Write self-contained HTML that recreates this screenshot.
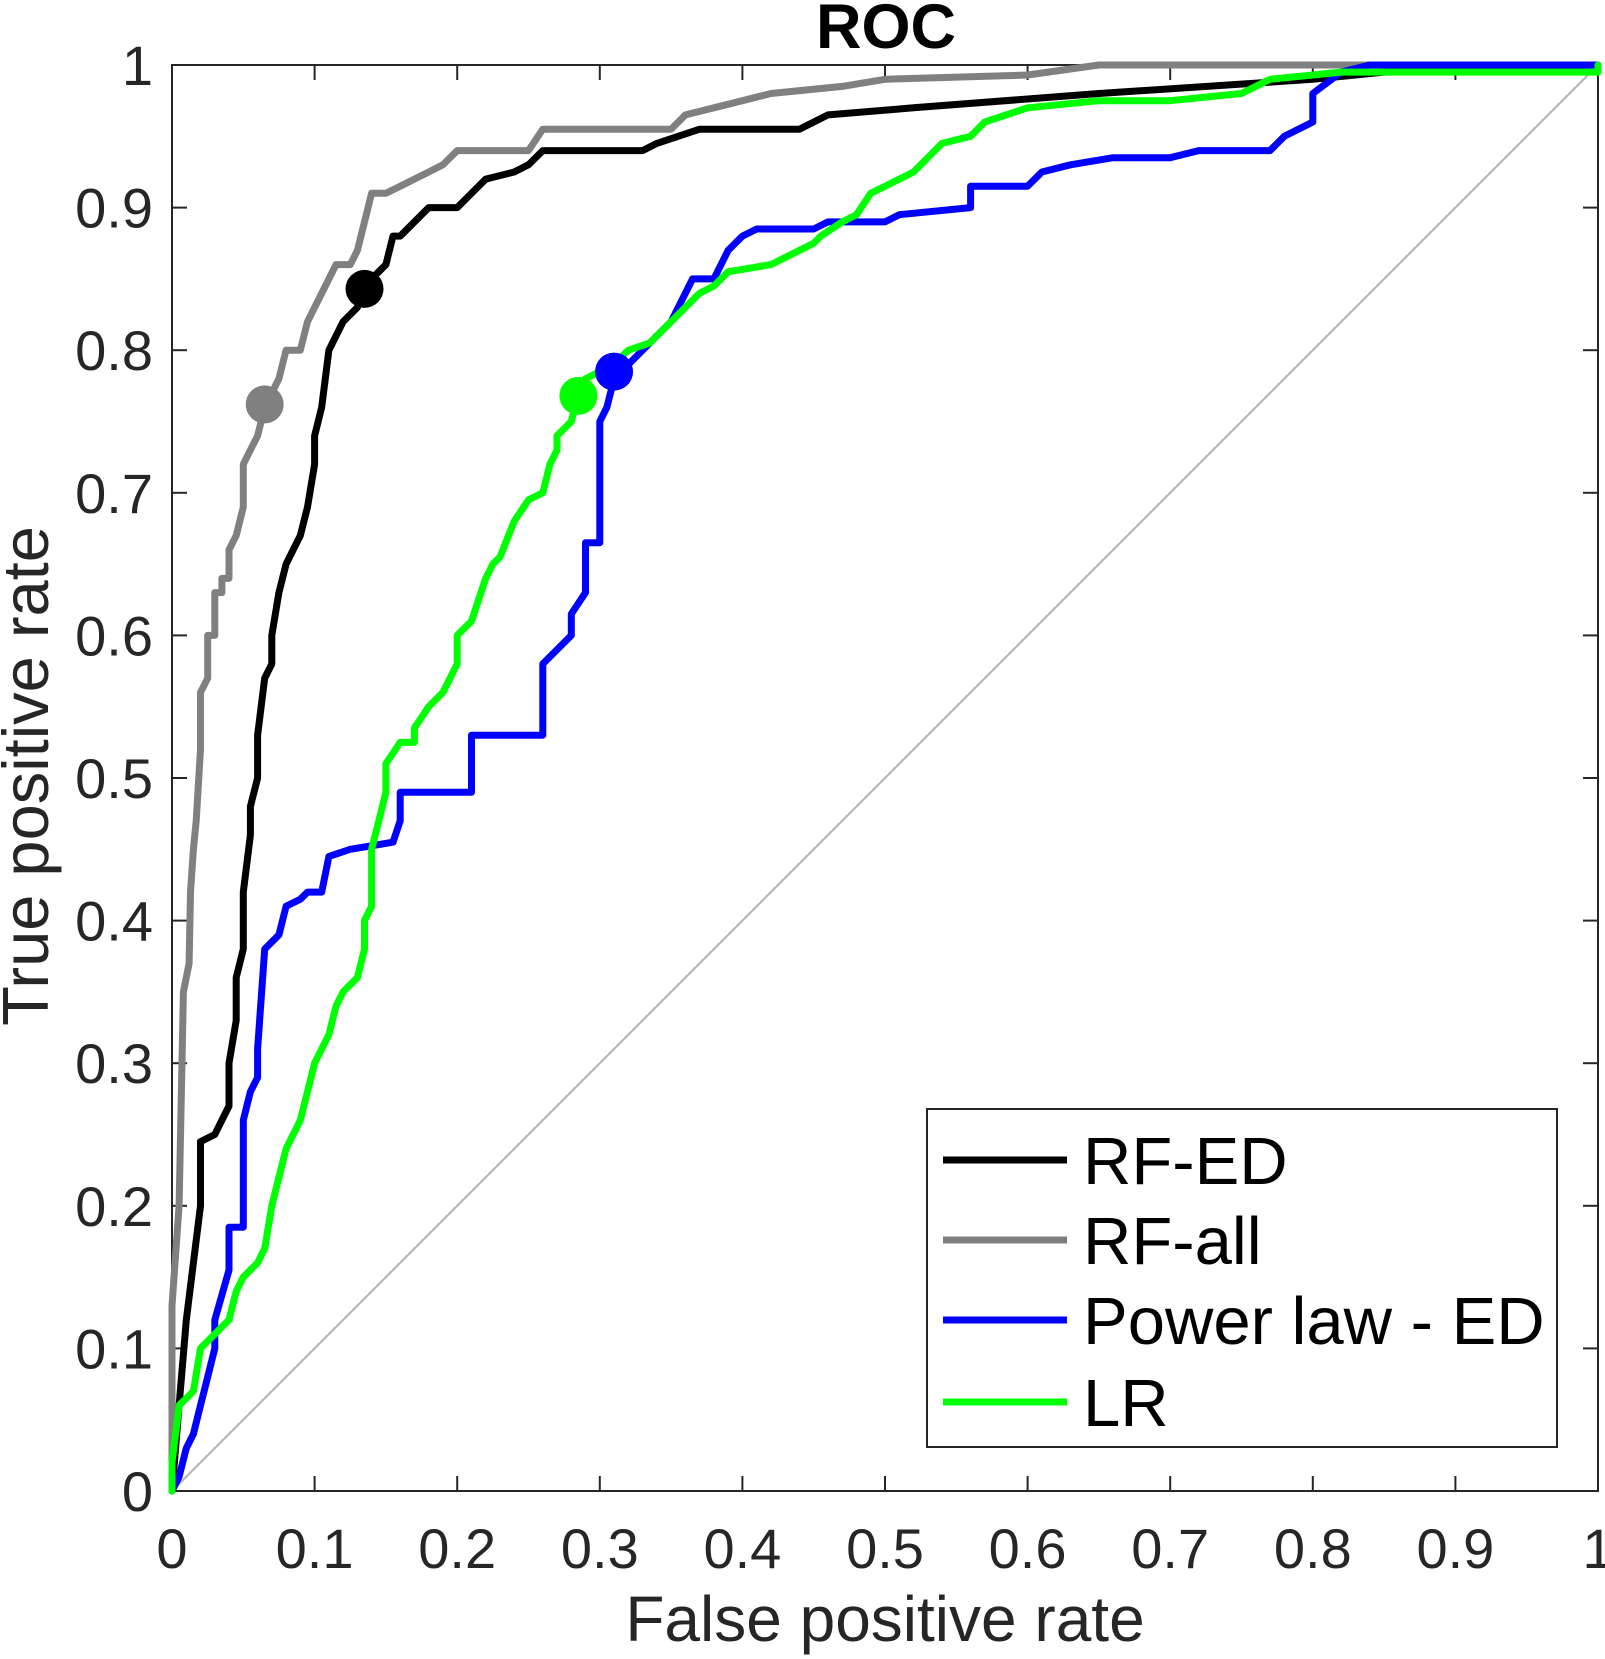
<!DOCTYPE html>
<html><head><meta charset="utf-8"><style>
html,body{margin:0;padding:0;background:#fff;}
svg{display:block;font-family:"Liberation Sans",sans-serif;}
</style></head><body>
<svg id="chart" width="1605" height="1659" viewBox="0 0 1605 1659"></svg>
<script>
const tickValues=[0,0.1,0.2,0.3,0.4,0.5,0.6,0.7,0.8,0.9,1];
const tickLabels=["0","0.1","0.2","0.3","0.4","0.5","0.6","0.7","0.8","0.9","1"];
const seriesNames=["RF-ED","RF-all","Power law - ED","LR"];
const seriesColors=["#000000","#808080","#0000ff","#00ff00"];
const rfEdFpr=[0,0.005,0.01,0.015,0.02,0.02,0.03,0.035,0.04,0.04,0.045,0.045,0.05,0.05,0.055,0.055,0.06,0.06,0.065,0.07,0.07,0.075,0.08,0.085,0.09,0.095,0.1,0.1,0.105,0.11,0.115,0.12,0.13,0.135,0.15,0.155,0.16,0.18,0.2,0.21,0.22,0.24,0.25,0.26,0.33,0.34,0.37,0.44,0.46,0.52,0.65,0.8,0.85,1];
const rfEdTpr=[0,0.06,0.12,0.16,0.2,0.245,0.25,0.26,0.27,0.3,0.33,0.36,0.38,0.42,0.46,0.48,0.5,0.53,0.57,0.58,0.6,0.63,0.65,0.66,0.67,0.69,0.72,0.74,0.76,0.8,0.81,0.82,0.83,0.845,0.86,0.88,0.88,0.9,0.9,0.91,0.92,0.925,0.93,0.94,0.94,0.945,0.955,0.955,0.965,0.97,0.98,0.99,0.995,1];
const rfAllFpr=[0,0,0.005,0.008,0.012,0.013,0.015,0.017,0.02,0.02,0.025,0.025,0.03,0.03,0.035,0.035,0.04,0.04,0.045,0.05,0.05,0.055,0.06,0.065,0.075,0.08,0.09,0.095,0.1,0.11,0.115,0.125,0.13,0.135,0.14,0.15,0.16,0.17,0.18,0.19,0.2,0.25,0.26,0.35,0.36,0.38,0.4,0.42,0.47,0.5,0.6,0.65,1];
const rfAllTpr=[0,0.13,0.2,0.35,0.37,0.42,0.45,0.47,0.52,0.56,0.57,0.6,0.6,0.63,0.63,0.64,0.64,0.66,0.67,0.69,0.72,0.73,0.74,0.76,0.78,0.8,0.8,0.82,0.83,0.85,0.86,0.86,0.87,0.89,0.91,0.91,0.915,0.92,0.925,0.93,0.94,0.94,0.955,0.955,0.965,0.97,0.975,0.98,0.985,0.99,0.993,1,1];
const plFpr=[0,0.005,0.01,0.015,0.02,0.025,0.03,0.03,0.04,0.04,0.05,0.05,0.055,0.06,0.06,0.065,0.075,0.08,0.09,0.095,0.105,0.11,0.125,0.155,0.16,0.16,0.21,0.21,0.26,0.26,0.27,0.28,0.28,0.29,0.29,0.3,0.3,0.305,0.31,0.33,0.34,0.35,0.36,0.365,0.38,0.39,0.4,0.41,0.45,0.46,0.5,0.51,0.56,0.56,0.6,0.61,0.63,0.66,0.7,0.72,0.77,0.78,0.8,0.8,0.82,0.84,1];
const plTpr=[0,0.01,0.03,0.04,0.06,0.08,0.1,0.12,0.155,0.185,0.185,0.26,0.28,0.29,0.31,0.38,0.39,0.41,0.415,0.42,0.42,0.445,0.45,0.455,0.47,0.49,0.49,0.53,0.53,0.58,0.59,0.6,0.615,0.63,0.665,0.665,0.75,0.76,0.78,0.8,0.81,0.82,0.84,0.85,0.85,0.87,0.88,0.885,0.885,0.89,0.89,0.895,0.9,0.915,0.915,0.925,0.93,0.935,0.935,0.94,0.94,0.95,0.96,0.98,0.995,1,1];
const lrFpr=[0,0,0.005,0.015,0.02,0.03,0.04,0.045,0.05,0.06,0.065,0.07,0.075,0.08,0.09,0.095,0.1,0.11,0.115,0.12,0.13,0.135,0.135,0.14,0.14,0.145,0.15,0.15,0.16,0.17,0.17,0.18,0.19,0.2,0.2,0.21,0.22,0.225,0.23,0.24,0.25,0.26,0.265,0.27,0.27,0.28,0.285,0.29,0.31,0.32,0.335,0.34,0.35,0.36,0.37,0.38,0.39,0.42,0.43,0.45,0.455,0.47,0.48,0.49,0.5,0.51,0.52,0.53,0.54,0.56,0.57,0.6,0.65,0.7,0.75,0.77,0.82,1,1];
const lrTpr=[0,0.02,0.06,0.07,0.1,0.11,0.12,0.14,0.15,0.16,0.17,0.2,0.22,0.24,0.26,0.28,0.3,0.32,0.34,0.35,0.36,0.38,0.4,0.41,0.45,0.47,0.49,0.51,0.525,0.525,0.535,0.55,0.56,0.58,0.6,0.61,0.64,0.65,0.655,0.68,0.695,0.7,0.72,0.73,0.74,0.75,0.77,0.78,0.79,0.8,0.805,0.81,0.82,0.83,0.84,0.845,0.855,0.86,0.865,0.875,0.88,0.89,0.895,0.91,0.915,0.92,0.925,0.935,0.945,0.95,0.96,0.97,0.975,0.975,0.98,0.99,0.995,0.995,1];
const markerFpr=[0.135,0.065,0.31,0.285];
const markerTpr=[0.843,0.762,0.785,0.768];

const NS="http://www.w3.org/2000/svg";
const svg=document.getElementById('chart');
const L=172,R=1598,T=65,B=1491;
const sx=v=>L+v*(R-L), sy=v=>B-v*(B-T);
function mk(tag,attrs,parent){const e=document.createElementNS(NS,tag);for(const k in attrs)e.setAttribute(k,attrs[k]);(parent||svg).appendChild(e);return e;}

const frame=mk('rect',{x:L,y:T,width:R-L,height:B-T,fill:'#fff',stroke:'#262626','stroke-width':2});



tickValues.forEach((v,i)=>{
  const x=sx(v),y=sy(v);
  const g=mk('g',{stroke:'#262626','stroke-width':2});
  
  
  mk('line',{x1:x,y1:B,x2:x,y2:B-15},g);mk('line',{x1:x,y1:T,x2:x,y2:T+15},g);
  mk('line',{x1:L,y1:y,x2:L+15,y2:y},g);mk('line',{x1:R,y1:y,x2:R-15,y2:y},g);
  const tx=mk('text',{x:x,y:1568,'font-size':56,fill:'#262626','text-anchor':'middle'});
  tx.textContent=tickLabels[i];
  
  
  const ty=mk('text',{x:153,y:y+20,'font-size':56,fill:'#262626','text-anchor':'end'});
  ty.textContent=tickLabels[i];
  
  
});

const diag=mk('line',{x1:sx(0),y1:sy(0),x2:sx(1),y2:sy(1),stroke:'#b3b3b3','stroke-width':2});



const xs=[rfEdFpr,rfAllFpr,plFpr,lrFpr], ys=[rfEdTpr,rfAllTpr,plTpr,lrTpr];
const order=[1,0,2,3];
order.forEach(i=>{
  const d=xs[i].map((v,j)=>(j?'L':'M')+sx(v).toFixed(1)+','+sy(ys[i][j]).toFixed(1)).join(' ');
  const p=mk('path',{d:d,fill:'none',stroke:seriesColors[i],'stroke-width':7,'stroke-linejoin':'round','stroke-linecap':'round'});
  
  
});
order.forEach(i=>{
  const c=mk('circle',{cx:sx(markerFpr[i]),cy:sy(markerTpr[i]),r:19,fill:seriesColors[i]});
  
  
});

const lg=mk('g',{});


mk('rect',{x:927,y:1109,width:630,height:338,fill:'#fff',stroke:'#262626','stroke-width':2},lg);
const ly=[1160,1240,1320,1402];
seriesNames.forEach((n,i)=>{
  const e=mk('g',{},lg);
  
  
  mk('line',{x1:943,y1:ly[i],x2:1067,y2:ly[i],stroke:seriesColors[i],'stroke-width':7},e);
  const t=mk('text',{x:1083,y:ly[i]+24,'font-size':67,fill:'#000'},e);
  t.textContent=n;
});

const title=mk('text',{x:886,y:48,'font-size':63,'font-weight':'bold','text-anchor':'middle',fill:'#000'});
title.textContent='ROC';


const xl=mk('text',{x:885,y:1641,'font-size':64,'text-anchor':'middle',fill:'#262626'});
xl.textContent='False positive rate';


const yl=mk('text',{x:0,y:0,'font-size':65,'text-anchor':'middle',fill:'#262626',transform:'translate(48,776) rotate(-90)'});
yl.textContent='True positive rate';


</script>
</body></html>
